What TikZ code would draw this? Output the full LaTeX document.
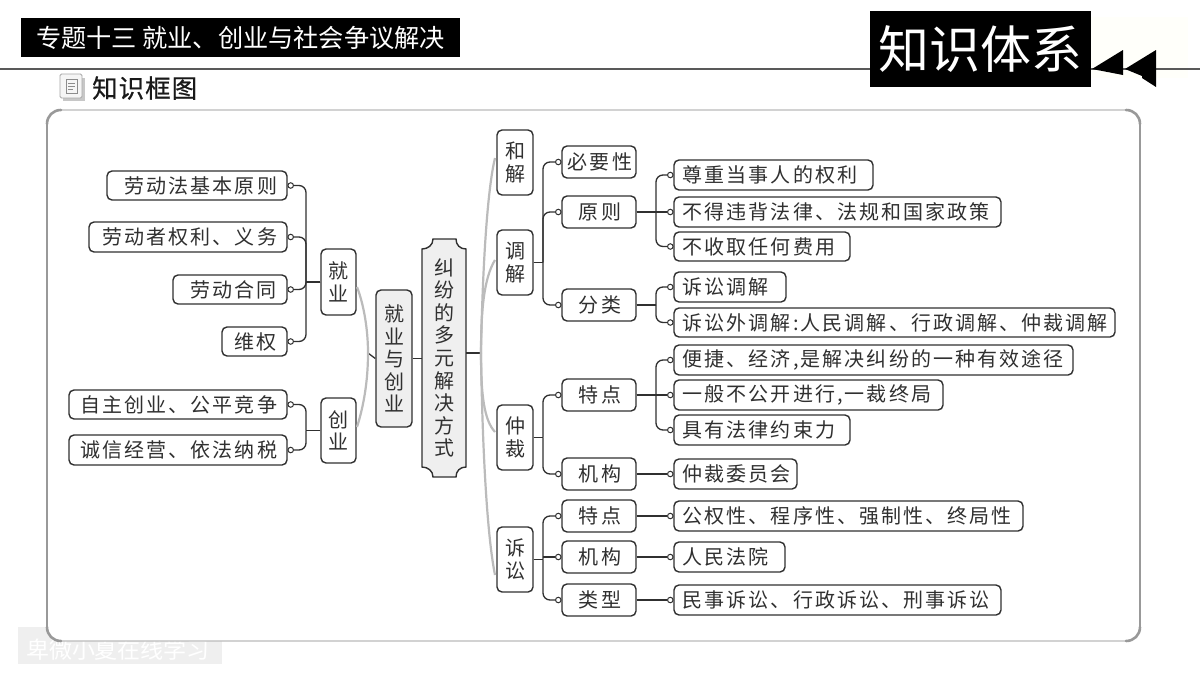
\documentclass[tikz,border=0pt]{standalone}
\usepackage{fontspec}
\setmainfont{Noto Sans CJK SC}
\newfontfamily\cjkwide[LetterSpace=10.5]{Noto Sans CJK SC}
\newfontfamily\cjkplain{Noto Sans CJK SC}
\newfontfamily\cjksec[LetterSpace=4,FakeBold=0.6]{Noto Sans CJK SC}
\usetikzlibrary{calc}
\definecolor{ink}{HTML}{303030}
\definecolor{pale}{HTML}{EFEFEF}
\definecolor{soft}{HTML}{BBBBBB}
\definecolor{midg}{HTML}{999999}
\tikzset{
  boxed/.style={draw=ink,line width=1.4pt,rounded corners=5pt,fill=white,inner sep=0pt,text=ink,align=center},
  hbox/.style={boxed,font=\cjkwide\fontsize{20}{23}\selectfont},
  vbox/.style={boxed,font=\cjkplain\fontsize{20}{22.6}\selectfont},
  grayv/.style={vbox,fill=pale},
  dotmark/.style={circle,draw=ink,line width=1pt,fill=white,minimum size=5.5pt,inner sep=0pt},
  conn/.style={draw=ink,line width=1.3pt},
  bendline/.style={conn,rounded corners=7pt},
  twig/.style={draw=soft,line width=2.2pt},
}
% box by its pixel corners, text centred
\newcommand\bx[7][hbox]{\node[#1,minimum width={(#5-#3)*1pt},minimum height={(#6-#4)*1pt}] (#2) at ({(#3+#5)/2},{(#4+#6)/2}) {#7};}
% centred wide text, allowing for its trailing letter space
\newcommand\bxc[6]{\bx{#1}{#2}{#3}{#4}{#5}{\hspace*{2pt}#6}}
% text flush left at 9 from the box edge
\newcommand\bxl[6]{\node[hbox,align=left,text width={(#4-#2)*1pt},minimum height={(#5-#3)*1pt}] (#1) at ({(#2+#4)/2},{(#3+#5)/2}) {\hspace*{8.5pt}#6};}
% text flush right at 12 from the box edge
\newcommand\bxr[6]{\node[hbox,align=right,text width={(#4-#2)*1pt},minimum height={(#5-#3)*1pt}] (#1) at ({(#2+#4)/2},{(#3+#5)/2}) {#6\hspace*{10pt}};}
% branch to the right: parent, child, bus coordinate
\newcommand\brR[3]{\node[dotmark] (d#2) at ($(#2.west)+(-3,0)$) {};
  \draw[conn] (#1.east) -- (#1.east -| #3);
  \draw[bendline] (#1.east -| #3) |- (d#2.west);}
\newcommand\brL[3]{\node[dotmark] (d#2) at ($(#2.east)+(3,0)$) {};
  \draw[conn] (#1.west) -- (#1.west -| #3);
  \draw[bendline] (#1.west -| #3) |- (d#2.east);}
% child whose row lies on the stem
\newcommand\brS[3]{\node[dotmark] (d#2) at ($(#2.west)+(-3,0)$) {};
  \draw[conn] (#1.east) -- (#1.east -| #3);
  \draw[conn] (d#2.west -| #3) -- (d#2.west);}
\begin{document}
\begin{tikzpicture}[x=1pt,y=-1pt]
\useasboundingbox (0,0) rectangle (1200,675);
\fill[white] (0,0) rectangle (1200,675);
% header
\fill[green!2!yellow!2!white] (1091,17) rectangle (1188,78);
\coordinate (ruleL) at (0,69);
\coordinate (ruleR) at (1200,69);
\draw[draw=ink!80,line width=1.2pt] (ruleL) -- (ruleR);
\node[fill=black,text=white,minimum width=439pt,minimum height=39pt,inner sep=0pt,font=\fontsize{25.2}{28}\selectfont] (title) at (240.5,37.5) {专题十三 就业、创业与社会争议解决};
\node[fill=black,text=white,minimum width=221pt,minimum height=76pt,inner sep=0pt,font=\fontsize{51}{56}\selectfont] (sys) at (980.5,49) {知识体系};
\fill[black] (1092,69) -- (1123,50) -- (1123,75) -- cycle;
\fill[black] (1125,69) -- (1156,50) -- (1156,87) -- (1142,78) -- (1142,76) -- cycle;
% section label
\fill[black!22] (63,78) rectangle (85,101);
\draw[draw=black!35,fill=black!4,line width=0.8pt,rounded corners=1.5pt] (60,74) rectangle (82,98);
\draw[draw=black!45,line width=0.7pt] (66,79) rectangle (77,93);
\draw[draw=black!45,line width=0.6pt] (68,83) -- (75,83) (68,86) -- (75,86) (68,89) -- (73,89);
\node[anchor=west,inner sep=0pt,text=black!90,font=\cjksec\fontsize{25.5}{28}\selectfont] (sec) at (92,88) {知识框图};
% watermark strip
\fill[pale] (18,627) rectangle (222,664);
\node[text=white,inner sep=0pt,font=\fontsize{23}{26}\selectfont] (mark) at (118,650) {卑微小夏在线学习};
% frame
\draw[draw=soft,fill=white,line width=1.4pt,rounded corners=14pt] (47,110) rectangle (1140,641);
\draw[draw=midg,line width=2.6pt,line cap=round]
  (47,124) .. controls (47,116) and (53,110) .. (61,110)
  (1126,110) .. controls (1134,110) and (1140,116) .. (1140,124)
  (47,627) .. controls (47,635) and (53,641) .. (61,641)
  (1126,641) .. controls (1134,641) and (1140,635) .. (1140,627);
\draw[draw=midg,line width=1.2pt] (47,124) -- (47,627) (1140,124) -- (1140,627);
% buses
\coordinate (busLeft) at (306,353);
\coordinate (busMid) at (543,353);
\coordinate (busRight) at (656,353);
\coordinate (hubL) at (368,353);
\coordinate (hubR) at (481,353);
% central nodes
\path[draw=ink,line width=1.4pt,fill=pale] (433,239) -- (456,239) .. controls (456,245) and (460,249) .. (466,249)
  -- (466,467) .. controls (460,467) and (456,471) .. (456,477) -- (433,477)
  .. controls (433,471) and (428,467) .. (422,467) -- (422,249) .. controls (428,249) and (433,245) .. (433,239) -- cycle;
\node[inner sep=0pt,minimum width=44pt,minimum height=238pt,align=center,text=ink,font=\cjkplain\fontsize{20}{22.6}\selectfont] (main) at (444,358) {纠\\纷\\的\\多\\元\\解\\决\\方\\式};
\bx[grayv]{core}{376}{290}{412}{427}{就\\业\\与\\创\\业}
% left side
\bx[vbox]{jiu}{321}{249}{356}{315}{就\\业}
\bx[vbox]{chuang}{321}{398}{356}{463}{创\\业}
\bxr{la}{107}{171}{287}{200}{劳动法基本原则}
\bxr{lb}{89}{222}{287}{252}{劳动者权利、义务}
\bxr{lc}{173}{275}{287}{304}{劳动合同}
\bxr{ld}{222}{327}{287}{356}{维权}
\bxr{le}{69}{390}{287}{419}{自主创业、公平竞争}
\bxr{lf}{69}{435}{287}{465}{诚信经营、依法纳税}
\brL{jiu}{la}{busLeft}
\brL{jiu}{lb}{busLeft}
\brL{jiu}{lc}{busLeft}
\brL{jiu}{ld}{busLeft}
\brL{chuang}{le}{busLeft}
\brL{chuang}{lf}{busLeft}
% right side, first level
\bx[vbox]{he}{497}{130}{533}{195}{和\\解}
\bx[vbox]{tiao}{497}{230}{533}{295}{调\\解}
\bx[vbox]{zhong}{497}{405}{533}{470}{仲\\裁}
\bx[vbox]{su}{497}{527}{533}{592}{诉\\讼}
% second level
\bxc{bi}{562}{146}{636}{178}{必要性}
\bxc{yuan}{562}{196}{636}{228}{原则}
\bxc{fen}{562}{289}{636}{321}{分类}
\bxc{te}{562}{379}{636}{411}{特点}
\bxc{ji}{562}{458}{636}{490}{机构}
\bxc{teb}{562}{500}{636}{532}{特点}
\bxc{jib}{562}{541}{636}{573}{机构}
\bxc{lei}{562}{584}{636}{616}{类型}
\brR{tiao}{bi}{busMid}
\brR{tiao}{yuan}{busMid}
\brR{tiao}{fen}{busMid}
\brR{zhong}{te}{busMid}
\brR{zhong}{ji}{busMid}
\brR{su}{teb}{busMid}
\brS{su}{jib}{busMid}
\brR{su}{lei}{busMid}
% third level
\bxl{ra}{674}{160}{873}{190}{尊重当事人的权利}
\bxl{rb}{674}{197}{1001}{227}{不得违背法律、法规和国家政策}
\bxl{rc}{674}{232}{850}{261}{不收取任何费用}
\bxl{rd}{674}{272}{786}{302}{诉讼调解}
\bxl{re}{674}{308}{1115}{337}{诉讼外调解:人民调解、行政调解、仲裁调解}
\bxl{rf}{674}{345}{1073}{375}{便捷、经济,是解决纠纷的一种有效途径}
\bxl{rg}{674}{380}{943}{410}{一般不公开进行,一裁终局}
\bxl{rh}{674}{415}{850}{445}{具有法律约束力}
\bxl{ri}{674}{459}{797}{489}{仲裁委员会}
\bxl{rj}{674}{501}{1023}{531}{公权性、程序性、强制性、终局性}
\bxl{rk}{674}{542}{785}{572}{人民法院}
\bxl{rl}{674}{585}{1001}{615}{民事诉讼、行政诉讼、刑事诉讼}
\brR{yuan}{ra}{busRight}
\brS{yuan}{rb}{busRight}
\brR{yuan}{rc}{busRight}
\brR{fen}{rd}{busRight}
\brR{fen}{re}{busRight}
\brR{te}{rf}{busRight}
\brS{te}{rg}{busRight}
\brR{te}{rh}{busRight}
\brS{ji}{ri}{busRight}
\brS{teb}{rj}{busRight}
\brS{jib}{rk}{busRight}
\brS{lei}{rl}{busRight}
% hubs
\draw[conn] (core.east) -- (core.east -| main.west);
\draw[conn] (main.east |- hubR) -- (hubR);
\draw[conn] (core.west) -- (hubL);
\coordinate (endA) at (495,158);
\coordinate (endB) at (495,260);
\coordinate (endC) at (495,432);
\coordinate (endD) at (495,575);
\coordinate (endE) at (357,287);
\coordinate (endF) at (357,427);
\draw[twig] (endA) .. controls (486,195) and (482,290) .. (hubR);
\draw[twig] (endB) .. controls (484,278) and (481,310) .. (hubR);
\draw[twig] (endC) .. controls (484,420) and (481,395) .. (hubR);
\draw[twig] (endD) .. controls (486,530) and (482,430) .. (hubR);
\draw[twig] (endE) .. controls (364,305) and (368,330) .. (hubL);
\draw[twig] (endF) .. controls (364,405) and (368,380) .. (hubL);
\end{tikzpicture}
\end{document}
